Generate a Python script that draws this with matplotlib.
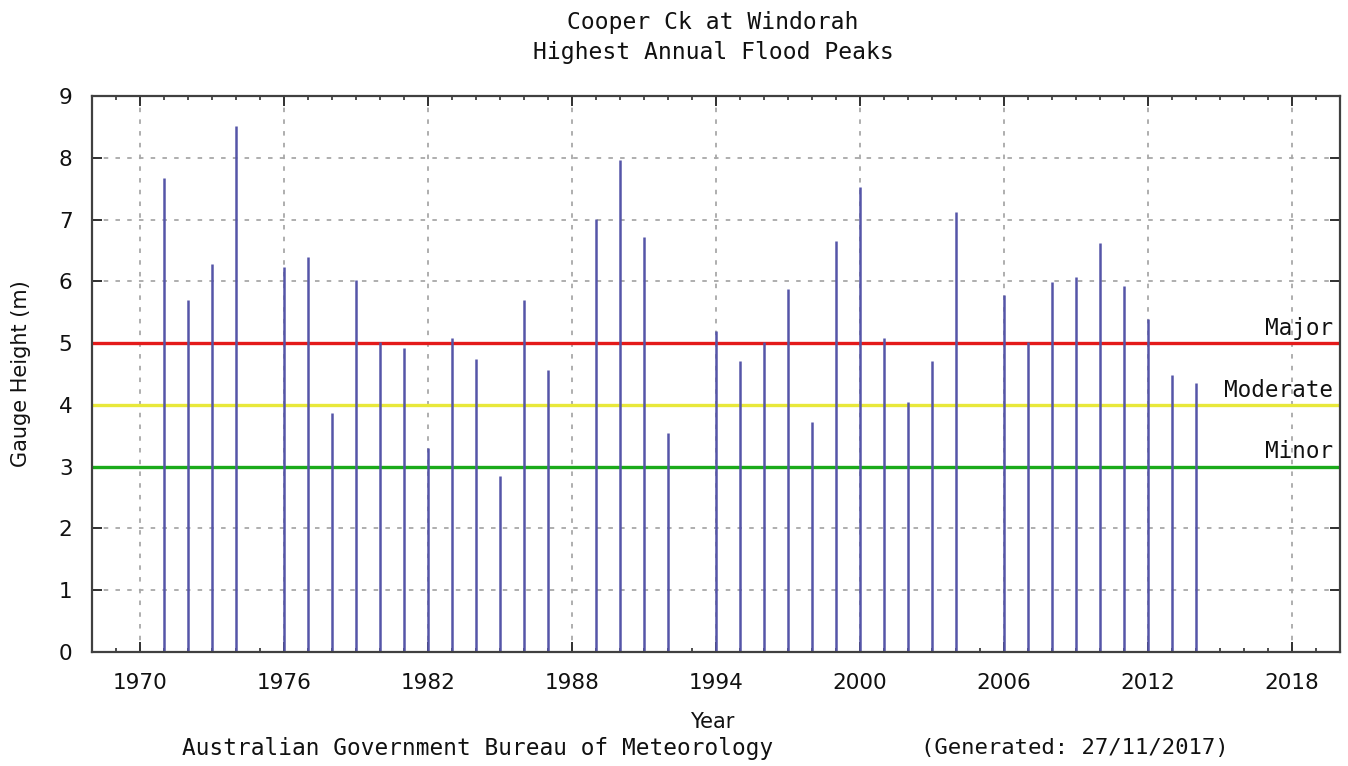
import matplotlib
matplotlib.use("Agg")
import matplotlib.pyplot as plt
from matplotlib.ticker import MultipleLocator

years = [1971, 1972, 1973, 1974, 1976, 1977, 1978, 1979, 1980, 1981, 1982, 1983,
         1984, 1985, 1986, 1987, 1989, 1990, 1991, 1992, 1994, 1995, 1996, 1997,
         1998, 1999, 2000, 2001, 2002, 2003, 2004, 2006, 2007, 2008, 2009, 2010,
         2011, 2012, 2013, 2014]
peaks = [7.67, 5.70, 6.28, 8.51, 6.23, 6.39, 3.87, 6.02, 5.02, 4.92, 3.30, 5.08,
         4.74, 2.85, 5.70, 4.56, 7.01, 7.96, 6.72, 3.54, 5.19, 4.71, 5.02, 5.87,
         3.72, 6.65, 7.52, 5.08, 4.05, 4.71, 7.12, 5.78, 5.02, 5.99, 6.07, 6.62,
         5.92, 5.39, 4.48, 4.35]

flood_names = ["Major", "Moderate", "Minor"]
flood_levels = [5, 4, 3]
flood_colors = ["#e41a1a", "#e8e83a", "#1aaa1a"]

x_ticks = [1970, 1976, 1982, 1988, 1994, 2000, 2006, 2012, 2018]
y_ticks = [0, 1, 2, 3, 4, 5, 6, 7, 8, 9]

MONO = "DejaVu Sans Mono"
SANS = "DejaVu Sans"
TXT = "#111111"

fig = plt.figure(figsize=(13.48, 7.66), dpi=100)
ax = fig.add_axes([92/1348, 1 - 652/766, (1340-92)/1348, (652-96)/766])

ax.set_xlim(1968, 2020)
ax.set_ylim(0, 9)

ax.set_xticks(x_ticks)
ax.set_yticks(y_ticks)
ax.xaxis.set_minor_locator(MultipleLocator(1))
ax.grid(True, which="major", color="#a8a8a8", linestyle=(0, (2.5, 4)), linewidth=1.3)
ax.set_axisbelow(True)

for name, lvl, col in zip(flood_names, flood_levels, flood_colors):
    ax.axhline(lvl, color=col, linewidth=2.4, zorder=2)
    ax.annotate(name, xy=(1, lvl), xycoords=("axes fraction", "data"),
                xytext=(-5, 6), textcoords="offset points",
                ha="right", va="baseline", fontsize=16.3, family=MONO,
                color=TXT, zorder=4)

ax.vlines(years, 0, peaks, color="#5555a8", linewidth=1.8, zorder=3)

for s in ax.spines.values():
    s.set_linewidth(1.6)
    s.set_color("#404040")
    s.set_zorder(5)

ax.tick_params(axis="both", which="major", direction="in", length=7, width=1.4,
               color="#303030", top=True, right=True, labelsize=15.5, labelcolor=TXT)
ax.tick_params(axis="x", which="major", pad=15)
ax.tick_params(axis="y", which="major", pad=14)
ax.tick_params(axis="x", which="minor", direction="in", length=3, width=1.2,
               color="#303030", top=True)
for lab in ax.get_xticklabels() + ax.get_yticklabels():
    lab.set_family(SANS)

ax.set_ylabel("Gauge Height (m)", fontsize=15, family=SANS, color=TXT, labelpad=20)

fig.text(713/1348, 1 - 22/766, "Cooper Ck at Windorah", ha="center", va="center",
         fontsize=16.6, family=MONO, color=TXT)
fig.text(713/1348, 1 - 52/766, "Highest Annual Flood Peaks", ha="center", va="center",
         fontsize=16.6, family=MONO, color=TXT)
fig.text(712/1348, 1 - 722/766, "Year", ha="center", va="center",
         fontsize=15, family=SANS, color=TXT)
fig.text(478/1348, 1 - 748/766, "Australian Government Bureau of Meteorology",
         ha="center", va="center", fontsize=16.4, family=MONO, color=TXT)
fig.text(1075/1348, 1 - 748/766, "(Generated: 27/11/2017)",
         ha="center", va="center", fontsize=16, family=MONO, color=TXT)

fig.savefig("out.png", dpi=100)
